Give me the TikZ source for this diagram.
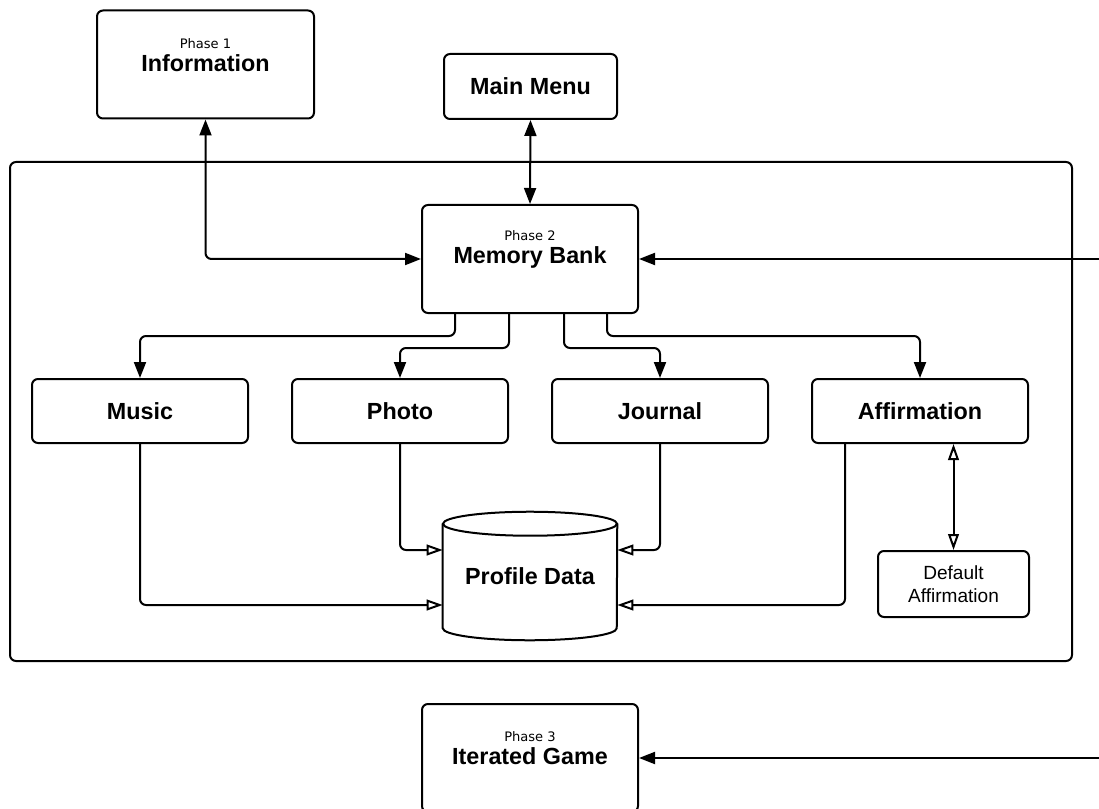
\documentclass[tikz,border=0pt]{standalone}
\usepackage{fontspec}
\setmainfont{Liberation Sans}
\newfontfamily\phasefont{DejaVu Sans}
\usetikzlibrary{arrows.meta,positioning}

\tikzset{
  box/.style={draw, line width=1.5pt, rounded corners=4.5pt, minimum width=162pt, minimum height=48pt,
    font=\fontsize{17.5}{20}\selectfont\bfseries},
  phasebox/.style={box, minimum height=81pt},
  phasetext/.style={align=center, inner sep=0pt, font=\fontsize{17.5}{17.5}\selectfont\bfseries},
  link/.style={line width=1.5pt, rounded corners=4.5pt},
  arrow/.style={link, -{Triangle[length=12pt,width=9pt]}},
  dblarrow/.style={link, {Triangle[length=12pt,width=9pt]}-{Triangle[length=12pt,width=9pt]}},
  openarrow/.style={link, -{Triangle[open,length=12pt,width=8pt]}},
  openboth/.style={link, {Triangle[open,length=12pt,width=8pt]}-{Triangle[open,length=12pt,width=8pt]}}
}

\newcommand{\phaselabel}[2]{{\mdseries\phasefont\fontsize{9.8}{12}\selectfont #1}\\#2}

\begin{document}
\begin{tikzpicture}[x=0.75pt,y=-0.75pt]
    \useasboundingbox (0,0) rectangle (1099,809);

    % outer frame of phase 2
    \draw[line width=1.5pt, rounded corners=4.5pt] (10,162) rectangle (1072,661);

    % phase boxes
    \node[phasebox, minimum width=162.75pt] at (205.5,64.5) (info) {};
    \node[phasetext] at ([yshift=-34pt]info.north) (infotext) {\phaselabel{Phase 1}{Information}};
    \node[box, minimum width=129.75pt, minimum height=48.75pt] at (530.5,86.5) (menu) {Main Menu};
    \node[phasebox] at (530,259) (mb) {};
    \node[phasetext] at ([yshift=-34pt]mb.north) (mbtext) {\phaselabel{Phase 2}{Memory Bank}};
    \node[phasebox] at (530,758) (game) {};
    \node[phasetext] at ([yshift=-34pt]game.north) (gametext) {\phaselabel{Phase 3}{Iterated Game}};

    % memory bank items
    \node[box] at (140,411) (music) {Music};
    \node[box] at (400,411) (photo) {Photo};
    \node[box] at (660,411) (journal) {Journal};
    \node[box] at (920,411) (affirm) {Affirmation};
    \node[box, minimum width=113.25pt, minimum height=49.5pt, align=center,
      font=\fontsize{14.3}{17.5}\selectfont] at (953.5,584) (dflt) {Default\\Affirmation};

    % profile data store
    \node[minimum width=130.5pt, minimum height=96pt, inner sep=0pt,
      font=\fontsize{17.5}{20}\selectfont\bfseries] at (530,576) (pd) {Profile Data};
    \draw[line width=1.5pt] ([yshift=-9pt]pd.north west) -- ([yshift=9pt]pd.south west)
      arc[start angle=180, end angle=360, x radius=65.25pt, y radius=9pt]
      -- ([yshift=-9pt]pd.north east);
    \draw[line width=1.5pt] ([yshift=-9pt]pd.north) ellipse [x radius=65.25pt, y radius=9pt];

    \coordinate (east1) at (1099,259);
    \coordinate (east2) at (1099,758);

    \draw[dblarrow] (info.south) |- (mb.west);
    \draw[dblarrow] (menu.south) -- (mb.north);
    \draw[arrow] (east1) -- (mb.east);
    \draw[arrow] (east2) -- (game.east);

    \draw[arrow] ([xshift=-56.25pt]mb.south) -- ++(0,22) -| (music.north);
    \draw[arrow] ([xshift=-15.75pt]mb.south) -- ++(0,34) -| (photo.north);
    \draw[arrow] ([xshift=25.5pt]mb.south) -- ++(0,34) -| (journal.north);
    \draw[arrow] ([xshift=57.75pt]mb.south) -- ++(0,22) -| (affirm.north);

    \draw[openarrow] (photo.south) |- ([yshift=19.5pt]pd.west);
    \draw[openarrow] (journal.south) |- ([yshift=19.5pt]pd.east);
    \draw[openarrow] (music.south) |- ([yshift=-21.75pt]pd.west);
    \draw[openarrow] ([xshift=-56.25pt]affirm.south) |- ([yshift=-21.75pt]pd.east);
    \draw[openboth] (dflt.north |- affirm.south) -- (dflt.north);
\end{tikzpicture}
\end{document}
